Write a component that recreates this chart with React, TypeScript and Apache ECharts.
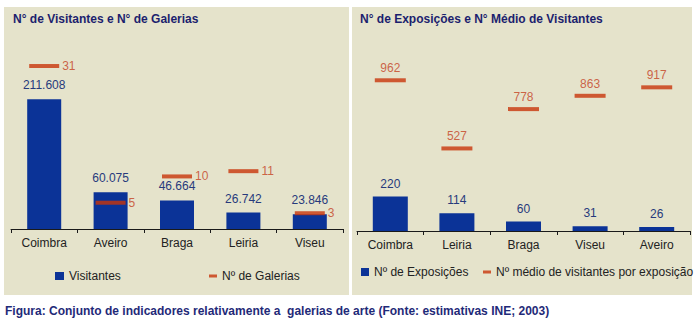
import React, { useEffect, useRef } from "react";
import * as echarts from "echarts";

const leftCategories = ["Coimbra", "Aveiro", "Braga", "Leiria", "Viseu"];
const visitantes = [211608, 60075, 46664, 26742, 23846];
const galerias = [31, 5, 10, 11, 3];

const rightCategories = ["Coimbra", "Leiria", "Braga", "Viseu", "Aveiro"];
const exposicoes = [220, 114, 60, 31, 26];
const medioVisitantes = [962, 527, 778, 863, 917];

const leftTitle = "N° de Visitantes e N° de Galerias";
const rightTitle = "N° de Exposições e N° Médio de Visitantes";
const caption =
  "Figura: Conjunto de indicadores relativamente a  galerias de arte (Fonte: estimativas INE; 2003)";

const FONT = "'Liberation Sans', Arial, Helvetica, sans-serif";
const BLUE = "#0b3397";
const RED = "#c8340a";
const RED_TEXT = "#c4411f";
const BLUE_TEXT = "#273a7c";
const BG = "#e5e3cb";
const NAVY = "#1c1f6e";

function fmtThousands(v: number): string {
  const s = String(Math.round(v));
  return s.replace(/\B(?=(\d{3})+(?!\d))/g, ".");
}

export default function App() {
  const ref = useRef<HTMLDivElement>(null);
  useEffect(() => {
    document.body.style.margin = "0";
    if (!ref.current) return;
    const chart = echarts.init(ref.current, undefined, { renderer: "svg" });
    const axisCommon = {
      type: "category" as const,
      axisLine: { show: true, lineStyle: { color: "#1a1a1a", width: 1 } },
      axisTick: { show: true, length: 4, lineStyle: { color: "#1a1a1a" } },
      axisLabel: { color: "#222", fontSize: 12, fontFamily: FONT, margin: 8 },
      splitLine: { show: false },
    };
    const legendCommon = {
      orient: "horizontal" as const,
      textStyle: { color: "#222", fontSize: 12, fontFamily: FONT },
      itemGap: 0,
      padding: 0,
      selectedMode: false as const,
    };
    chart.setOption({
      animation: false,
      backgroundColor: "#ffffff",
      graphic: [
        { type: "rect", shape: { x: 4, y: 7, width: 345, height: 288 }, style: { fill: BG }, z: -10, silent: true },
        { type: "rect", shape: { x: 352, y: 7, width: 340, height: 288 }, style: { fill: BG }, z: -10, silent: true },
        {
          type: "text", left: 13, top: 13,
          style: { text: leftTitle, fill: NAVY, font: `bold 12px ${FONT}` },
        },
        {
          type: "text", left: 360, top: 13,
          style: { text: rightTitle, fill: NAVY, font: `bold 12px ${FONT}` },
        },
        {
          type: "text", left: 5, top: 305,
          style: { text: caption, fill: "#1f2a78", font: `bold 12px ${FONT}` },
        },
      ],
      grid: [
        { left: 11, right: 357, top: 45, bottom: 98, containLabel: false },
        { left: 357, right: 10, top: 43, bottom: 96, containLabel: false },
      ],
      xAxis: [
        { ...axisCommon, gridIndex: 0, data: leftCategories },
        { ...axisCommon, gridIndex: 1, data: rightCategories },
      ],
      yAxis: [
        { type: "value", gridIndex: 0, min: 0, max: 300000, show: false },
        { type: "value", gridIndex: 0, min: 0, max: 35, show: false },
        { type: "value", gridIndex: 1, min: 0, max: 1200, show: false },
      ],
      legend: [
        { ...legendCommon, left: 55, top: 270, icon: "rect", itemWidth: 9, itemHeight: 8, data: ["Visitantes"] },
        { ...legendCommon, left: 209, top: 270, icon: "rect", itemWidth: 8, itemHeight: 3, data: ["Nº de Galerias"] },
        { ...legendCommon, left: 361, top: 266, icon: "rect", itemWidth: 8, itemHeight: 8, data: ["Nº de Exposições"] },
        { ...legendCommon, left: 483, top: 266, icon: "rect", itemWidth: 8, itemHeight: 3, data: ["Nº médio de visitantes por exposição"] },
      ],
      series: [
        {
          name: "Visitantes",
          type: "bar",
          xAxisIndex: 0,
          yAxisIndex: 0,
          data: visitantes,
          barWidth: 34,
          itemStyle: { color: BLUE },
          label: {
            show: true,
            position: "top",
            distance: 8,
            color: BLUE_TEXT,
            fontSize: 12,
            fontFamily: FONT,
            formatter: (p: any) => fmtThousands(p.value),
          },
        },
        {
          name: "Nº de Galerias",
          type: "scatter",
          xAxisIndex: 0,
          yAxisIndex: 1,
          data: galerias,
          symbol: "rect",
          symbolSize: [30, 4],
          itemStyle: { color: RED },
          label: {
            show: true,
            position: "right",
            distance: 3,
            color: RED_TEXT,
            fontSize: 12,
            fontFamily: FONT,
          },
          z: 5,
        },
        {
          name: "Nº de Exposições",
          type: "bar",
          xAxisIndex: 1,
          yAxisIndex: 2,
          data: exposicoes,
          barWidth: 35,
          itemStyle: { color: BLUE },
          label: {
            show: true,
            position: "top",
            distance: 7,
            color: BLUE_TEXT,
            fontSize: 12,
            fontFamily: FONT,
          },
        },
        {
          name: "Nº médio de visitantes por exposição",
          type: "scatter",
          xAxisIndex: 1,
          yAxisIndex: 2,
          data: medioVisitantes,
          symbol: "rect",
          symbolSize: [31, 4],
          itemStyle: { color: RED },
          label: {
            show: true,
            position: "top",
            distance: 4,
            color: RED_TEXT,
            fontSize: 12,
            fontFamily: FONT,
          },
          z: 5,
        },
      ],
    });
    return () => chart.dispose();
  }, []);
  return <div ref={ref} style={{ width: 700, height: 327 }} />;
}
